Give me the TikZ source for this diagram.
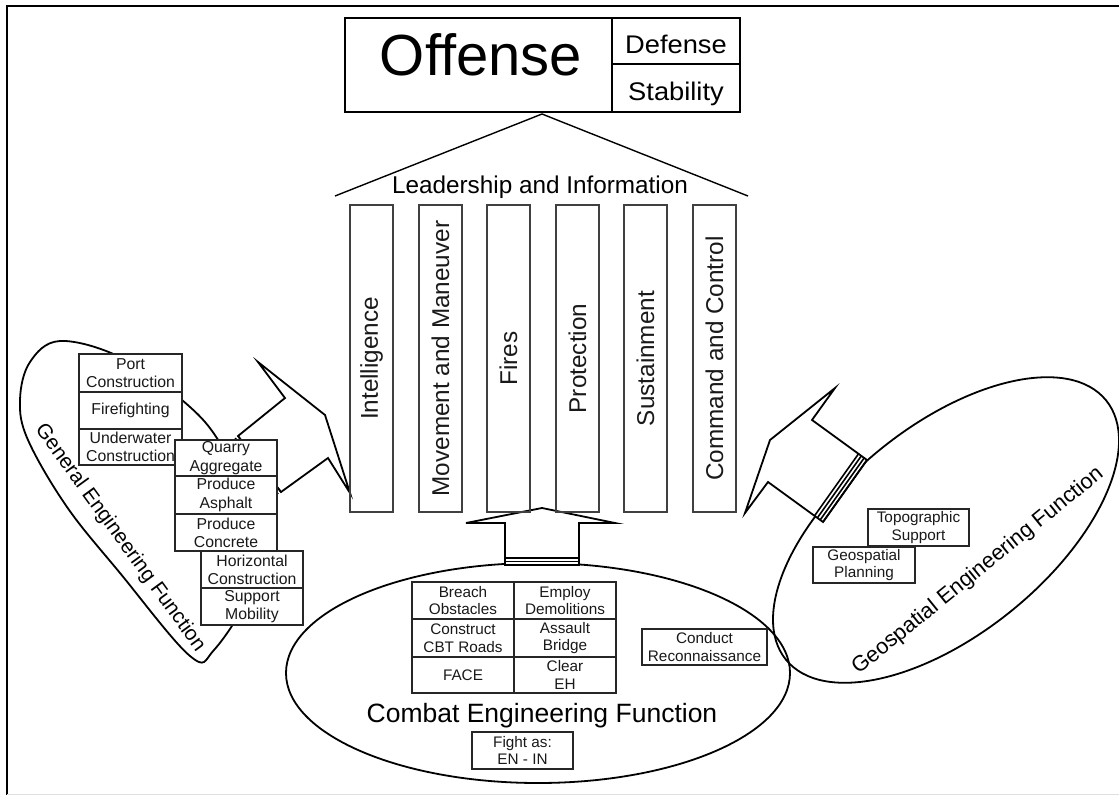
\documentclass[tikz,border=0pt]{standalone}
\usepackage{fontspec}
\setmainfont{Liberation Sans}
\usetikzlibrary{shapes.geometric,calc}
\begin{document}
\begin{tikzpicture}[x=1pt,y=-1pt,
  cell/.style={draw=black!85, line width=1.4pt, fill=white, inner sep=0pt,
    align=center, text=black!90, font=\fontsize{15.3}{17.5}\selectfont},
  gencell/.style={cell, font=\fontsize{15.8}{18.3}\selectfont},
  pillar/.style={draw=black!75, line width=1.3pt, inner sep=0pt, rotate=90,
    minimum width=307pt, minimum height=43pt, text=black!90,
    font=\fontsize{24.3}{28}\selectfont},
  region/.style={draw=black, line width=1.8pt},
  block/.style={draw=black, line width=1.8pt, fill=white, line join=miter},
  band/.style={draw=black, line width=1.6pt},
  toprow/.style={draw=black, line width=1.8pt, inner sep=0pt},
]
\useasboundingbox (0,0) rectangle (1119,795);

% frame
\draw[line width=2.5pt] (7,795) -- (7,6) -- (1119,6);
\draw[black!12, line width=1pt] (7,794.5) -- (1119,794.5);

% the three engineering functions
\node[region, ellipse, inner sep=0pt, minimum width=504pt, minimum height=220pt] (combat) at (538,673) {};
\node[region, ellipse, inner sep=0pt, minimum width=412pt, minimum height=208pt, rotate=39] (geo) at (946,530) {};
\draw[region] plot[smooth cycle, tension=0.6] coordinates {
  (30,362) (60,341) (120,357) (182,400) (220,443) (255,520) (250,590)
  (214,650) (190,656) (120,573) (67,507) (28,440) (20,400)};
\coordinate (general) at (140,500);

\node[rotate=39, font=\fontsize{21.8}{24}\selectfont] (geolabel) at (978,571)
  {Geospatial Engineering Function};
\node[rotate=-54, font=\fontsize{20.7}{24}\selectfont] (genlabel) at (120,538)
  {General Engineering Function};
\node[anchor=base, font=\fontsize{26.5}{30}\selectfont] (comlabel) at (542,722)
  {Combat Engineering Function};

% block arrows into the pillars
\draw[block] (238,436) -- (285,398) -- (258,362) -- (325,415) -- (350,493)
  -- (328,458) -- (281,492) -- cycle;
\foreach \k in {0,1,2,3}
  \draw[band] ($(238,436)+(-2.86*\k,2.02*\k)$) -- ($(281,492)+(-2.86*\k,2.02*\k)$);

\draw[block] (745,513) -- (770,440) -- (835,388) -- (812,420) -- (867,460)
  -- (823,522) -- (768,482) -- cycle;
\foreach \k in {0,1,2,3}
  \draw[band] ($(867,460)+(-2.83*\k,-2.06*\k)$) -- ($(823,522)+(-2.83*\k,-2.06*\k)$);

\draw[block] (505,565) -- (505,523) -- (466,523) -- (542,508) -- (615,523)
  -- (579,523) -- (579,565) -- cycle;
\foreach \k in {0,1,2}
  \draw[band] (505,565-3.6*\k) -- (579,565-3.6*\k);

% general engineering tasks
\node[gencell, minimum width=103pt, minimum height=38pt] (port) at (130.5,373) {Port\\Construction};
\node[gencell, minimum width=103pt, minimum height=37pt] (fire) at (130.5,410.5) {Firefighting};
\node[gencell, minimum width=103pt, minimum height=36pt] (under) at (130.5,447) {Underwater\\Construction};
\node[gencell, minimum width=102pt, minimum height=36pt] (quarry) at (226,458) {Quarry\\Aggregate};
\node[gencell, minimum width=102pt, minimum height=38pt] (asphalt) at (226,495) {Produce\\Asphalt};
\node[gencell, minimum width=102pt, minimum height=37pt] (concrete) at (226,532.5) {Produce\\Concrete};
\node[gencell, minimum width=102pt, minimum height=37pt] (horiz) at (252,569.5) {Horizontal\\Construction};
\node[gencell, minimum width=102pt, minimum height=37pt] (mobility) at (252,606.5) {Support\\Mobility};

% combat engineering tasks
\node[cell, minimum width=102pt, minimum height=37pt] (breach) at (463,600.5) {Breach\\Obstacles};
\node[cell, minimum width=102pt, minimum height=37pt] (demo) at (565,600.5) {Employ\\Demolitions};
\node[cell, minimum width=102pt, minimum height=38pt] (roads) at (463,638) {Construct\\CBT Roads};
\node[cell, minimum width=102pt, minimum height=38pt] (bridge) at (565,638) {Assault\\Bridge};
\node[cell, minimum width=102pt, minimum height=36pt] (face) at (463,675) {FACE};
\node[cell, minimum width=102pt, minimum height=36pt] (clear) at (565,675) {Clear\\EH};
\node[cell, minimum width=125pt, minimum height=36pt] (recon) at (704.5,647) {Conduct\\Reconnaissance};
\node[cell, minimum width=101pt, minimum height=37pt] (fight) at (522.5,750.5) {Fight as:\\EN - IN};

% geospatial engineering tasks
\node[cell, minimum width=101pt, minimum height=37pt] (topo) at (918.5,527.5) {Topographic\\Support};
\node[cell, minimum width=102pt, minimum height=36pt] (plan) at (864,565) {Geospatial\\Planning};

% operations
\node[toprow, minimum width=267pt, minimum height=94pt] (offense) at (478.5,65) {};
\node[toprow, minimum width=128pt, minimum height=46pt] (defense) at (676,41) {};
\node[toprow, minimum width=128pt, minimum height=48pt] (stability) at (676,88) {};
\node[anchor=base, font=\fontsize{58}{60}\selectfont] (offtext) at (481,75) {Offense};
\node[anchor=base, font=\fontsize{25.5}{28}\selectfont] (deftext) at (676,53) {\scalebox{1.07}[1]{Defense}};
\node[anchor=base, font=\fontsize{25.5}{28}\selectfont] (stabtext) at (676,100) {\scalebox{1.07}[1]{Stability}};

% roof
\coordinate (apex) at (542,114);
\draw[line width=1.4pt] (335,196) -- (apex) -- (748,196);
\node[anchor=base, font=\fontsize{24.3}{28}\selectfont] (lead) at (540,193)
  {Leadership and Information};

% warfighting functions
\node[pillar] (intel) at (371.5,358.5) {Intelligence};
\node[pillar] (move) at (440.5,358.5) {Movement and Maneuver};
\node[pillar] (fires) at (508.5,358.5) {Fires};
\node[pillar] (prot) at (577.5,358.5) {Protection};
\node[pillar] (sust) at (645.5,358.5) {Sustainment};
\node[pillar] (c2) at (714.5,358.5) {Command and Control};
\end{tikzpicture}
\end{document}
